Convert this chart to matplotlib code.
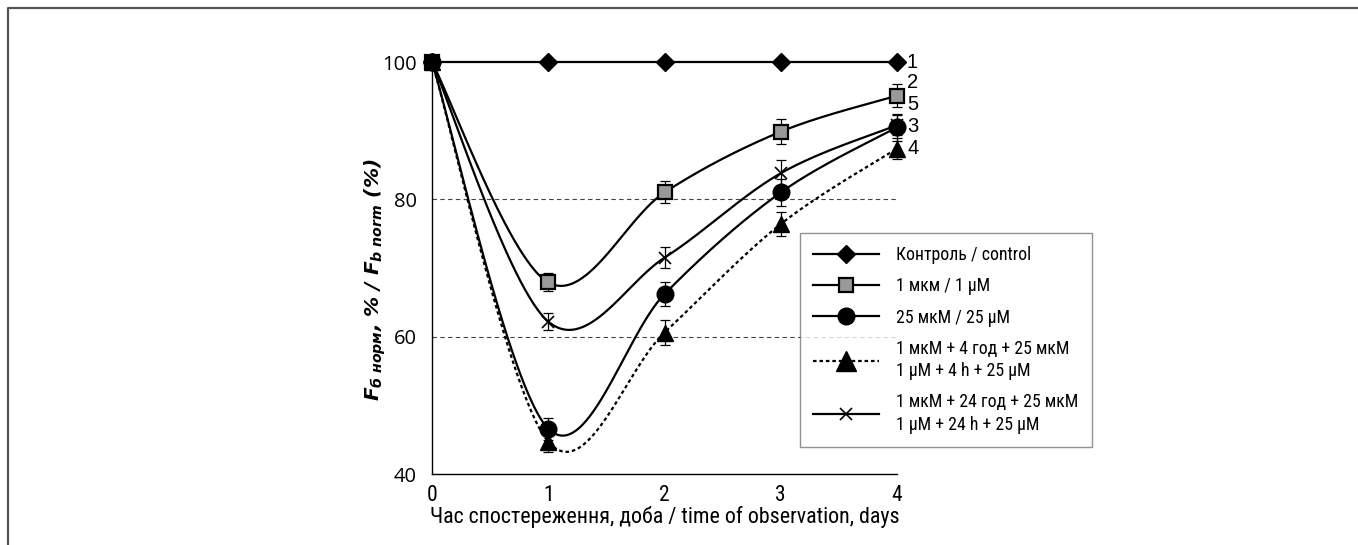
import numpy as np
import matplotlib
matplotlib.use("Agg")
import matplotlib.pyplot as plt
from matplotlib.lines import Line2D
from matplotlib import font_manager

# ---- data ----
days = [0, 1, 2, 3, 4]
control = [100, 100, 100, 100, 100]
s_1uM = [100, 67.9, 81.0, 89.85, 95.1]
s_25uM = [100, 46.6, 66.2, 81.0, 90.5]
s_1_4_25 = [100, 44.7, 60.6, 76.4, 87.4]
s_1_24_25 = [100, 62.2, 71.5, 83.8, 90.8]
e_1uM = [0, 1.3, 1.6, 1.8, 1.7]
e_25uM = [0, 1.6, 1.7, 2.0, 2.0]
e_1_4_25 = [0, 1.5, 1.8, 1.7, 1.5]
e_1_24_25 = [0, 1.3, 1.5, 2.0, 1.5]

labels = ["Контроль / control", "1 мкм / 1 μM", "25 мкМ / 25 μM",
          "1 мкМ + 4 год + 25 мкМ\n1 μM + 4 h + 25 μM",
          "1 мкМ + 24 год + 25 мкМ\n1 μM + 24 h + 25 μM"]
right_labels = ["1", "2", "5", "3", "4"]
yticks = [40, 60, 80, 100]
xticks = [0, 1, 2, 3, 4]

installed = {f.name for f in font_manager.fontManager.ttflist}
NARROW = [f for f in ["Roboto Condensed", "Liberation Sans Narrow", "Arial Narrow",
                      "Roboto", "DejaVu Sans"] if f in installed]
if not NARROW:
    NARROW = ["DejaVu Sans"]


def smooth(x, y, n=60):
    """Catmull-Rom style bezier smoothing (spreadsheet 'smoothed line')."""
    P = np.column_stack([x, y]).astype(float)
    P_ext = np.vstack([P[0], P, P[-1]])
    out = []
    for i in range(len(P) - 1):
        p0, p1, p2, p3 = P_ext[i], P_ext[i + 1], P_ext[i + 2], P_ext[i + 3]
        c1 = p1 + (p2 - p0) / 6.0
        c2 = p2 - (p3 - p1) / 6.0
        t = np.linspace(0, 1, n)[:, None]
        seg = ((1 - t) ** 3) * p1 + 3 * ((1 - t) ** 2) * t * c1 + 3 * (1 - t) * t ** 2 * c2 + t ** 3 * p2
        out.append(seg if i == 0 else seg[1:])
    s = np.vstack(out)
    return s[:, 0], s[:, 1]


plt.rcParams["mathtext.fontset"] = "custom"
plt.rcParams["mathtext.rm"] = "DejaVu Sans:bold:italic"
plt.rcParams["mathtext.it"] = "DejaVu Sans:bold:italic"
plt.rcParams["mathtext.bf"] = "DejaVu Sans:bold:italic"

fig = plt.figure(figsize=(13.58, 5.45), dpi=100)
ax = fig.add_axes([432 / 1358, 1 - 474 / 545, 465 / 1358, 412 / 545])

ax.set_xlim(0, 4)
ax.set_ylim(40, 100)

# grid lines at 60 and 80
for g in [60, 80]:
    ax.axhline(g, color="#444444", lw=0.8, ls=(0, (4, 3)), zorder=1)

lw = 1.6
# control
ax.plot(days, control, color="black", lw=lw, marker="D", ms=9.5,
        mfc="black", mec="black", zorder=3, clip_on=False)

series = [
    (s_1uM, e_1uM, "s", 9.5, "#999999", "-", 1.6),
    (s_1_24_25, e_1_24_25, "x", 9, "black", "-", 1.2),
    (s_1_4_25, e_1_4_25, "^", 11.5, "black", (0, (1.6, 1.3)), 1.0),
    (s_25uM, e_25uM, "o", 12, "black", "-", 1.0),
]
for y, e, m, ms, fc, ls, mew in series:
    xs, ys = smooth(days, y)
    ax.plot(xs, ys, color="black", lw=lw, ls=ls, zorder=3, clip_on=False)
    ax.errorbar(days, y, yerr=e, fmt="none", ecolor="black", elinewidth=0.9,
                capsize=3.5, capthick=0.9, zorder=4, clip_on=False)
    ax.plot(days, y, ls="none", marker=m, ms=ms, mfc=fc, mec="black",
            mew=mew, zorder=5, clip_on=False)

# axes style
for sp in ["top", "right"]:
    ax.spines[sp].set_visible(False)
for sp in ["left", "bottom"]:
    ax.spines[sp].set_linewidth(1.0)
    ax.spines[sp].set_color("black")
ax.set_yticks(yticks)
ax.set_xticks(xticks)
ax.tick_params(axis="y", length=0, pad=11)
ax.tick_params(axis="x", length=0, pad=8)
ax.set_yticklabels([str(v) for v in yticks], fontsize=14.5, family=["Open Sans", "DejaVu Sans"])
ax.set_xticklabels([str(v) for v in xticks], fontsize=15.5, family=NARROW)

ax.set_xlabel("Час спостереження, доба / time of observation, days",
              fontsize=15.8, family=NARROW, labelpad=0)

# right-hand series numbers
for lab, yv in zip(right_labels, [100, 97, 93.8, 90.6, 87.4]):
    ax.text(1.0 + 10 / 465, yv, lab, transform=ax.get_yaxis_transform(),
            fontsize=14.5, family=["Liberation Sans", "DejaVu Sans"],
            va="center", ha="left", clip_on=False)

# y label
fig.text(375 / 1358, 1 - 280 / 545,
         r"$F_{б\ норм}$, % / $F_{b\ norm}$ (%)", rotation=90,
         ha="center", va="center", fontsize=14.5, fontweight="bold",
         fontstyle="italic", family=["DejaVu Sans"])

# legend
handles = [
    Line2D([], [], color="black", lw=lw, marker="D", ms=9.5, mfc="black"),
    Line2D([], [], color="black", lw=lw, marker="s", ms=9.5, mfc="#999999", mec="black", mew=1.6),
    Line2D([], [], color="black", lw=lw, marker="o", ms=12, mfc="black"),
    Line2D([], [], color="black", lw=lw, ls=(0, (1.6, 1.3)), marker="^", ms=14, mfc="black"),
    Line2D([], [], color="black", lw=lw, marker="x", ms=9, mew=1.2),
]
leg = ax.legend(handles, labels, loc="lower left",
                bbox_to_anchor=((800 - 432) / 465, (474 - 447) / 412),
                borderaxespad=0, frameon=True, fancybox=False,
                prop={"family": NARROW, "size": 12.8},
                handlelength=3.7, handletextpad=0.95, labelspacing=0.75,
                borderpad=0.75)
for t in leg.get_texts():
    t.set_linespacing(1.3)
leg.get_frame().set_edgecolor("#777777")
leg.get_frame().set_linewidth(1.0)

# figure frame (top and left edges)
fig.add_artist(Line2D([8 / 1358, 8 / 1358, 1], [0, 1 - 8 / 545, 1 - 8 / 545],
                      transform=fig.transFigure, color="#555555", lw=1.6))

fig.savefig("out.png", dpi=100)
